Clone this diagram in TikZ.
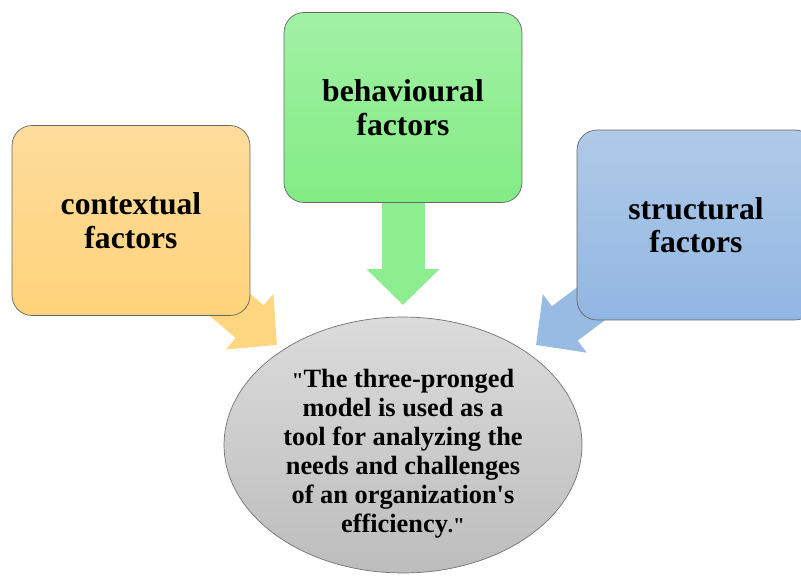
\documentclass[tikz,border=0pt]{standalone}
\usepackage{fontspec}
\setmainfont{Liberation Serif}[Ligatures=TeXOff]
\usetikzlibrary{shapes.geometric,arrows.meta,backgrounds}
\usepackage{xcolor}
\definecolor{ctxtop}{RGB}{253,220,156}
\definecolor{ctxbot}{RGB}{254,211,122}
\definecolor{behtop}{RGB}{162,241,164}
\definecolor{behbot}{RGB}{130,236,132}
\definecolor{strtop}{RGB}{176,202,232}
\definecolor{strbot}{RGB}{145,182,226}
\definecolor{ctxarrow}{RGB}{254,214,128}
\definecolor{beharrow}{RGB}{140,238,142}
\definecolor{strarrow}{RGB}{152,187,227}

\begin{document}
\begin{tikzpicture}[x=0.02cm,y=-0.02cm,
  factor/.style={draw=black!60, thin, rounded corners=0.4cm, minimum width=4.76cm, minimum height=3.8cm,
    align=center, font=\rmfamily\bfseries\fontsize{18}{19}\selectfont},
  fat/.style={line width=0.86cm, -{Triangle[length=0.72cm,width=1.42cm]}}]
\useasboundingbox (0,0) rectangle (801,575);
\clip (0,0) rectangle (801,575);

\coordinate (ctxtip) at (277,345);
\coordinate (behtip) at (403,305);
\coordinate (strtip) at (536,345);

\node [factor, top color=ctxtop, bottom color=ctxbot] (ctx) at (131,220.5) {contextual\\factors};
\node [factor, top color=behtop, bottom color=behbot] (beh) at (403,107.5) {behavioural\\factors};
\node [factor, top color=strtop, bottom color=strbot] (str) at (696,225) {structural\\factors};

\begin{scope}[on background layer]
\draw [fat, ctxarrow] (ctx.center) -- (ctxtip);
\draw [fat, beharrow] (beh.center) -- (behtip);
\draw [fat, strarrow] (str.center) -- (strtip);
\end{scope}

\node [ellipse, draw=black!55, thin, top color=black!14, bottom color=black!26,
  minimum width=7.16cm, minimum height=5.12cm, inner sep=0pt] (ell) at (403,445) {};
\node [align=center, font=\rmfamily\bfseries\fontsize{15}{16.5}\selectfont] (quote) at (403,454)
  {{\large"}The three-pronged\\model is used as a\\tool for analyzing the\\needs and challenges\\of an organization's\\efficiency{\large."}};
\end{tikzpicture}
\end{document}
